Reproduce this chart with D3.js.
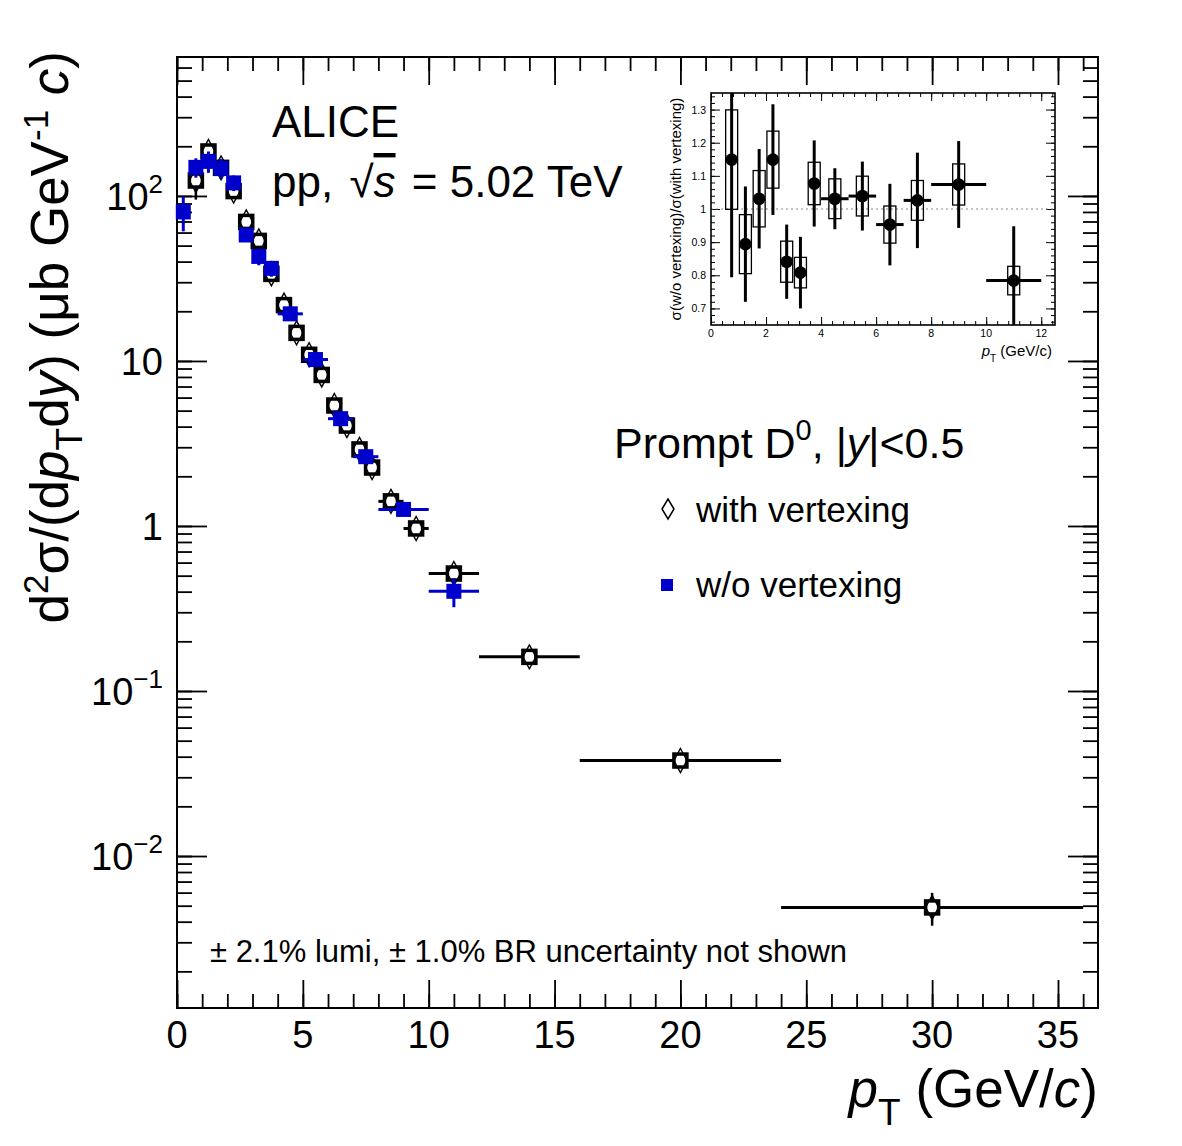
<!DOCTYPE html>
<html>
<head>
<meta charset="utf-8">
<script src="https://d3js.org/d3.v7.min.js"></script>
<style>
body { margin: 0; background: #fff; }
text { font-family: "Liberation Sans", Arial, Helvetica, sans-serif; fill: #000; }
</style>
</head>
<body>
<svg id="chart"></svg>
<script>
// settings
var svgWidth = 1182;
var svgHeight = 1146;
var blueColor = "#0000cc";

// frames in pixels
var frame = { left: 177, right: 1098, top: 57, bottom: 1008 };
var inset = { left: 711, right: 1055, top: 93, bottom: 325 };

// prompt D0, with vertexing
var withPt = [0.75, 1.25, 1.75, 2.25, 2.75, 3.25, 3.75, 4.25, 4.75, 5.25, 5.75, 6.25, 6.75, 7.25, 7.75, 8.5, 9.5, 11, 14, 20, 30];
var withBinHalf = [0.25, 0.25, 0.25, 0.25, 0.25, 0.25, 0.25, 0.25, 0.25, 0.25, 0.25, 0.25, 0.25, 0.25, 0.25, 0.5, 0.5, 1, 2, 4, 6];
var withVal = [124, 186, 148, 107, 69.6, 53.4, 33.7, 21.8, 14.8, 10.9, 8.23, 5.37, 4.06, 2.91, 2.26, 1.41, 0.966, 0.515, 0.161, 0.0379, 0.00488];
var withErr = [29, 12, 9, 6, 4, 3, 2, 1.2, 0.8, 0.6, 0.45, 0.3, 0.22, 0.16, 0.12, 0.08, 0.055, 0.03, 0.01, 0.0025, 0.0011];

// prompt D0, w/o vertexing
var woPt = [0.25, 0.75, 1.25, 1.75, 2.25, 2.75, 3.25, 3.75, 4.5, 5.5, 6.5, 7.5, 9, 11];
var woBinHalf = [0.25, 0.25, 0.25, 0.25, 0.25, 0.25, 0.25, 0.25, 0.5, 0.5, 0.5, 0.5, 1, 1];
var woVal = [80, 149, 162, 147, 120, 58, 43, 36.4, 19.3, 10.2, 4.47, 2.63, 1.26, 0.402];
var woErr = [19, 20, 24, 20, 13, 5, 5, 4, 1.4, 0.6, 0.3, 0.17, 0.07, 0.08];

// ratio w/o / with vertexing (inset)
var ratioPt = [0.75, 1.25, 1.75, 2.25, 2.75, 3.25, 3.75, 4.5, 5.5, 6.5, 7.5, 9, 11];
var ratioBinHalf = [0, 0, 0, 0, 0, 0, 0, 0.5, 0.5, 0.5, 0.5, 1, 1];
var ratioVal = [1.149, 0.894, 1.031, 1.149, 0.841, 0.808, 1.077, 1.031, 1.039, 0.953, 1.026, 1.074, 0.784];
var ratioStat = [0.355, 0.174, 0.15, 0.167, 0.112, 0.108, 0.13, 0.092, 0.104, 0.123, 0.144, 0.131, 0.164];
var ratioSyst = [0.15, 0.089, 0.085, 0.086, 0.062, 0.046, 0.064, 0.06, 0.06, 0.056, 0.06, 0.062, 0.043];

// ticks
var xMajorTicks = [0, 5, 10, 15, 20, 25, 30, 35];
var xTickLabels = ["0", "5", "10", "15", "20", "25", "30", "35"];
var yMajorTicks = [0.01, 0.1, 1, 10, 100];
var yTickBase = ["10", "10", "1", "10", "10"];
var yTickExp = ["\u22122", "\u22121", "", "", "2"];
var insetXTicks = [0, 2, 4, 6, 8, 10, 12];
var insetXTickLabels = ["0", "2", "4", "6", "8", "10", "12"];
var insetYTicks = [0.7, 0.8, 0.9, 1, 1.1, 1.2, 1.3];
var insetYTickLabels = ["0.7", "0.8", "0.9", "1", "1.1", "1.2", "1.3"];

var svg = d3.select("#chart")
	.attr("width", svgWidth)
	.attr("height", svgHeight);

svg.append("rect")
	.attr("width", svgWidth)
	.attr("height", svgHeight)
	.attr("fill", "#fff");

// scales
var x = d3.scaleLinear()
	.domain([0, 36.59])
	.range([frame.left, frame.right]);
var y = d3.scaleLog()
	.domain([Math.pow(10, -2.921), Math.pow(10, 2.842)])
	.range([frame.bottom, frame.top]);

// minor tick values
var xMinorTicks = d3.range(0, 37, 1);
var yMinorTicks = [];
for (var k = -3; k <= 2; k++)
	for (var m = 1; m <= 9; m++) {
		var v = m * Math.pow(10, k);
		if (v > y.domain()[0] && v < y.domain()[1]) yMinorTicks.push(v);
	}

// draws inward ticks with a d3 axis, no labels and no domain line
function drawTicks(axisFn, scale, values, size, transform, width) {
	var g = svg.append("g")
		.attr("transform", transform)
		.call(axisFn(scale).tickValues(values).tickSize(size).tickFormat(""));
	g.select(".domain").remove();
	g.selectAll("line").attr("stroke", "#000").attr("stroke-width", width);
	return g;
}

drawTicks(d3.axisBottom, x, xMinorTicks, -14, `translate(0, ${frame.bottom})`, 1.8);
drawTicks(d3.axisBottom, x, xMajorTicks, -28, `translate(0, ${frame.bottom})`, 1.8);
drawTicks(d3.axisTop, x, xMinorTicks, -14, `translate(0, ${frame.top})`, 1.8);
drawTicks(d3.axisTop, x, xMajorTicks, -28, `translate(0, ${frame.top})`, 1.8);
drawTicks(d3.axisLeft, y, yMinorTicks, -15, `translate(${frame.left}, 0)`, 1.8);
drawTicks(d3.axisLeft, y, yMajorTicks, -30, `translate(${frame.left}, 0)`, 1.8);
drawTicks(d3.axisRight, y, yMinorTicks, -15, `translate(${frame.right}, 0)`, 1.8);
drawTicks(d3.axisRight, y, yMajorTicks, -30, `translate(${frame.right}, 0)`, 1.8);

svg.append("rect")
	.attr("x", frame.left)
	.attr("y", frame.top)
	.attr("width", frame.right - frame.left)
	.attr("height", frame.bottom - frame.top)
	.attr("fill", "none")
	.attr("stroke", "#000")
	.attr("stroke-width", 2);

// x tick labels
svg.append("g").selectAll("text")
	.data(xMajorTicks)
	.enter()
	.append("text")
	.attr("x", d => x(d))
	.attr("y", 1048)
	.attr("text-anchor", "middle")
	.attr("font-size", "38px")
	.text((d, i) => xTickLabels[i]);

// y tick labels, with superscript exponent
yMajorTicks.forEach(function (v, i) {
	var t = svg.append("text")
		.attr("x", 163)
		.attr("y", y(v) + 14)
		.attr("text-anchor", "end")
		.attr("font-size", "38px");
	t.append("tspan").text(yTickBase[i]);
	if (yTickExp[i] !== "")
		t.append("tspan").attr("dy", -17).attr("font-size", "26px").text(yTickExp[i]);
});

// axis titles
var xTitle = svg.append("text")
	.attr("x", frame.right)
	.attr("y", 1107)
	.attr("text-anchor", "end")
	.attr("font-size", "53px");
xTitle.append("tspan").attr("font-style", "italic").text("p");
xTitle.append("tspan").attr("dy", 18).attr("font-size", "37px").text("T");
xTitle.append("tspan").attr("dy", -18).text(" (GeV/");
xTitle.append("tspan").attr("font-style", "italic").text("c");
xTitle.append("tspan").text(")");

var yTitle = svg.append("text")
	.attr("transform", "translate(68, 51) rotate(-90)")
	.attr("text-anchor", "end")
	.attr("font-size", "53px");
yTitle.append("tspan").text("d");
yTitle.append("tspan").attr("dy", -20).attr("font-size", "35px").text("2");
yTitle.append("tspan").attr("dy", 20).text("\u03c3/(d");
yTitle.append("tspan").attr("font-style", "italic").text("p");
yTitle.append("tspan").attr("dy", 14).attr("font-size", "37px").text("T");
yTitle.append("tspan").attr("dy", -14).text("d");
yTitle.append("tspan").attr("font-style", "italic").text("y");
yTitle.append("tspan").text(") (\u03bcb GeV");
yTitle.append("tspan").attr("dy", -20).attr("font-size", "35px").text("-1");
yTitle.append("tspan").attr("dy", 20).text(" ");
yTitle.append("tspan").attr("font-style", "italic").text("c");
yTitle.append("tspan").text(")");

// with vertexing: error bars, open boxes and diamonds
var withData = withPt.map((p, i) => ({ pt: p, half: withBinHalf[i], val: withVal[i], err: withErr[i] }));
var withGroup = svg.append("g");
withGroup.selectAll("line.h")
	.data(withData)
	.enter()
	.append("line")
	.attr("x1", d => x(d.pt - d.half))
	.attr("x2", d => x(d.pt + d.half))
	.attr("y1", d => y(d.val))
	.attr("y2", d => y(d.val))
	.attr("stroke", "#000")
	.attr("stroke-width", 3);
withGroup.selectAll("line.v")
	.data(withData)
	.enter()
	.append("line")
	.attr("x1", d => x(d.pt))
	.attr("x2", d => x(d.pt))
	.attr("y1", d => y(d.val + d.err))
	.attr("y2", d => y(d.val - d.err))
	.attr("stroke", "#000")
	.attr("stroke-width", 2.5);
withGroup.selectAll("rect")
	.data(withData)
	.enter()
	.append("rect")
	.attr("x", d => x(d.pt) - 6.5)
	.attr("y", d => y(d.val) - 6.5)
	.attr("width", 13)
	.attr("height", 13)
	.attr("fill", "#fff")
	.attr("stroke", "#000")
	.attr("stroke-width", 3.5);
withGroup.selectAll("path")
	.data(withData)
	.enter()
	.append("path")
	.attr("d", d => {
		var cx = x(d.pt), cy = y(d.val);
		return `M${cx},${cy - 12}L${cx + 6.5},${cy}L${cx},${cy + 12}L${cx - 6.5},${cy}Z`;
	})
	.attr("fill", "none")
	.attr("stroke", "#000")
	.attr("stroke-width", 1.4);

// w/o vertexing: blue error bars and full squares
var woData = woPt.map((p, i) => ({ pt: p, half: woBinHalf[i], val: woVal[i], err: woErr[i] }));
var woGroup = svg.append("g");
woGroup.selectAll("line.h")
	.data(woData)
	.enter()
	.append("line")
	.attr("x1", d => x(d.pt - d.half))
	.attr("x2", d => x(d.pt + d.half))
	.attr("y1", d => y(d.val))
	.attr("y2", d => y(d.val))
	.attr("stroke", blueColor)
	.attr("stroke-width", 3);
woGroup.selectAll("line.v")
	.data(woData)
	.enter()
	.append("line")
	.attr("x1", d => x(d.pt))
	.attr("x2", d => x(d.pt))
	.attr("y1", d => y(d.val + d.err))
	.attr("y2", d => y(d.val - d.err))
	.attr("stroke", blueColor)
	.attr("stroke-width", 3);
woGroup.selectAll("rect")
	.data(woData)
	.enter()
	.append("rect")
	.attr("x", d => x(d.pt) - 7.5)
	.attr("y", d => y(d.val) - 7.5)
	.attr("width", 15)
	.attr("height", 15)
	.attr("fill", blueColor);

// texts
svg.append("text")
	.attr("x", 272)
	.attr("y", 137)
	.attr("font-size", "44px")
	.text("ALICE");

var ppText = svg.append("text")
	.attr("x", 272)
	.attr("y", 197)
	.attr("font-size", "44px");
ppText.append("tspan").text("pp, ");
ppText.append("tspan").attr("dx", 4).text("\u221a");
ppText.append("tspan").attr("font-style", "italic").style("text-decoration", "overline").text("s");
ppText.append("tspan").attr("dx", 4).text(" = 5.02 TeV");

var promptText = svg.append("text")
	.attr("x", 614)
	.attr("y", 458)
	.attr("font-size", "43px");
promptText.append("tspan").text("Prompt D");
promptText.append("tspan").attr("dy", -18).attr("font-size", "29px").text("0");
promptText.append("tspan").attr("dy", 18).text(", |");
promptText.append("tspan").attr("font-style", "italic").text("y");
promptText.append("tspan").text("|<0.5");

// legend
svg.append("path")
	.attr("d", "M668,499L674,509L668,519L662,509Z")
	.attr("fill", "none")
	.attr("stroke", "#000")
	.attr("stroke-width", 1.5);
svg.append("text")
	.attr("x", 696)
	.attr("y", 522)
	.attr("font-size", "35px")
	.text("with vertexing");
svg.append("rect")
	.attr("x", 661)
	.attr("y", 579)
	.attr("width", 12)
	.attr("height", 12)
	.attr("fill", blueColor);
svg.append("text")
	.attr("x", 696)
	.attr("y", 597)
	.attr("font-size", "35px")
	.text("w/o vertexing");

svg.append("text")
	.attr("x", 210)
	.attr("y", 962)
	.attr("font-size", "31px")
	.text("\u00b1 2.1% lumi, \u00b1 1.0% BR uncertainty not shown");

// ---- inset ----
var ix = d3.scaleLinear()
	.domain([0, 12.5])
	.range([inset.left, inset.right]);
var iy = d3.scaleLinear()
	.domain([0.65, 1.35])
	.range([inset.bottom, inset.top]);

svg.append("rect")
	.attr("x", inset.left)
	.attr("y", inset.top)
	.attr("width", inset.right - inset.left)
	.attr("height", inset.bottom - inset.top)
	.attr("fill", "#fff");

svg.append("clipPath")
	.attr("id", "insetClip")
	.append("rect")
	.attr("x", inset.left)
	.attr("y", inset.top)
	.attr("width", inset.right - inset.left)
	.attr("height", inset.bottom - inset.top);

var insetXMinor = d3.range(0, 12.5, 0.4);
var insetYMinor = d3.range(0.66, 1.35, 0.02);
drawTicks(d3.axisBottom, ix, insetXMinor, -4, `translate(0, ${inset.bottom})`, 1);
drawTicks(d3.axisBottom, ix, insetXTicks, -8, `translate(0, ${inset.bottom})`, 1);
drawTicks(d3.axisTop, ix, insetXMinor, -4, `translate(0, ${inset.top})`, 1);
drawTicks(d3.axisTop, ix, insetXTicks, -8, `translate(0, ${inset.top})`, 1);
drawTicks(d3.axisLeft, iy, insetYMinor, -4, `translate(${inset.left}, 0)`, 1);
drawTicks(d3.axisLeft, iy, insetYTicks, -9, `translate(${inset.left}, 0)`, 1);
drawTicks(d3.axisRight, iy, insetYMinor, -4, `translate(${inset.right}, 0)`, 1);
drawTicks(d3.axisRight, iy, insetYTicks, -9, `translate(${inset.right}, 0)`, 1);

// reference line at 1
svg.append("line")
	.attr("x1", inset.left)
	.attr("x2", inset.right)
	.attr("y1", iy(1))
	.attr("y2", iy(1))
	.attr("stroke", "#888")
	.attr("stroke-width", 1.2)
	.attr("stroke-dasharray", "2,3");

var ratioData = ratioPt.map((p, i) => ({ pt: p, half: ratioBinHalf[i], val: ratioVal[i], stat: ratioStat[i], syst: ratioSyst[i] }));
var ratioGroup = svg.append("g").attr("clip-path", "url(#insetClip)");
ratioGroup.selectAll("rect")
	.data(ratioData)
	.enter()
	.append("rect")
	.attr("x", d => ix(d.pt) - 6)
	.attr("y", d => iy(d.val + d.syst))
	.attr("width", 12)
	.attr("height", d => iy(d.val - d.syst) - iy(d.val + d.syst))
	.attr("fill", "none")
	.attr("stroke", "#000")
	.attr("stroke-width", 1.3);
ratioGroup.selectAll("line.v")
	.data(ratioData)
	.enter()
	.append("line")
	.attr("x1", d => ix(d.pt))
	.attr("x2", d => ix(d.pt))
	.attr("y1", d => iy(d.val + d.stat))
	.attr("y2", d => iy(d.val - d.stat))
	.attr("stroke", "#000")
	.attr("stroke-width", 3);
ratioGroup.selectAll("line.h")
	.data(ratioData)
	.enter()
	.append("line")
	.attr("x1", d => ix(d.pt - d.half))
	.attr("x2", d => ix(d.pt + d.half))
	.attr("y1", d => iy(d.val))
	.attr("y2", d => iy(d.val))
	.attr("stroke", "#000")
	.attr("stroke-width", 3);
ratioGroup.selectAll("circle")
	.data(ratioData)
	.enter()
	.append("circle")
	.attr("cx", d => ix(d.pt))
	.attr("cy", d => iy(d.val))
	.attr("r", 6.3)
	.attr("fill", "#000");

svg.append("rect")
	.attr("x", inset.left)
	.attr("y", inset.top)
	.attr("width", inset.right - inset.left)
	.attr("height", inset.bottom - inset.top)
	.attr("fill", "none")
	.attr("stroke", "#000")
	.attr("stroke-width", 1.6);

// inset tick labels
svg.append("g").selectAll("text")
	.data(insetXTicks)
	.enter()
	.append("text")
	.attr("x", d => ix(d))
	.attr("y", 337)
	.attr("text-anchor", "middle")
	.attr("font-size", "10.5px")
	.attr("fill", "#222")
	.text((d, i) => insetXTickLabels[i]);
svg.append("g").selectAll("text")
	.data(insetYTicks)
	.enter()
	.append("text")
	.attr("x", 706)
	.attr("y", d => iy(d) + 4)
	.attr("text-anchor", "end")
	.attr("font-size", "10.5px")
	.attr("fill", "#222")
	.text((d, i) => insetYTickLabels[i]);

// inset axis titles
var ixTitle = svg.append("text")
	.attr("x", 1052)
	.attr("y", 356)
	.attr("text-anchor", "end")
	.attr("font-size", "15px");
ixTitle.append("tspan").attr("font-style", "italic").text("p");
ixTitle.append("tspan").attr("dy", 6).attr("font-size", "10px").text("T");
ixTitle.append("tspan").attr("dy", -6).text("  (GeV/c)");

svg.append("text")
	.attr("transform", `translate(681, ${(inset.top + inset.bottom) / 2}) rotate(-90)`)
	.attr("text-anchor", "middle")
	.attr("font-size", "15px")
	.text("\u03c3(w/o vertexing)/\u03c3(with vertexing)");
</script>
</body>
</html>
